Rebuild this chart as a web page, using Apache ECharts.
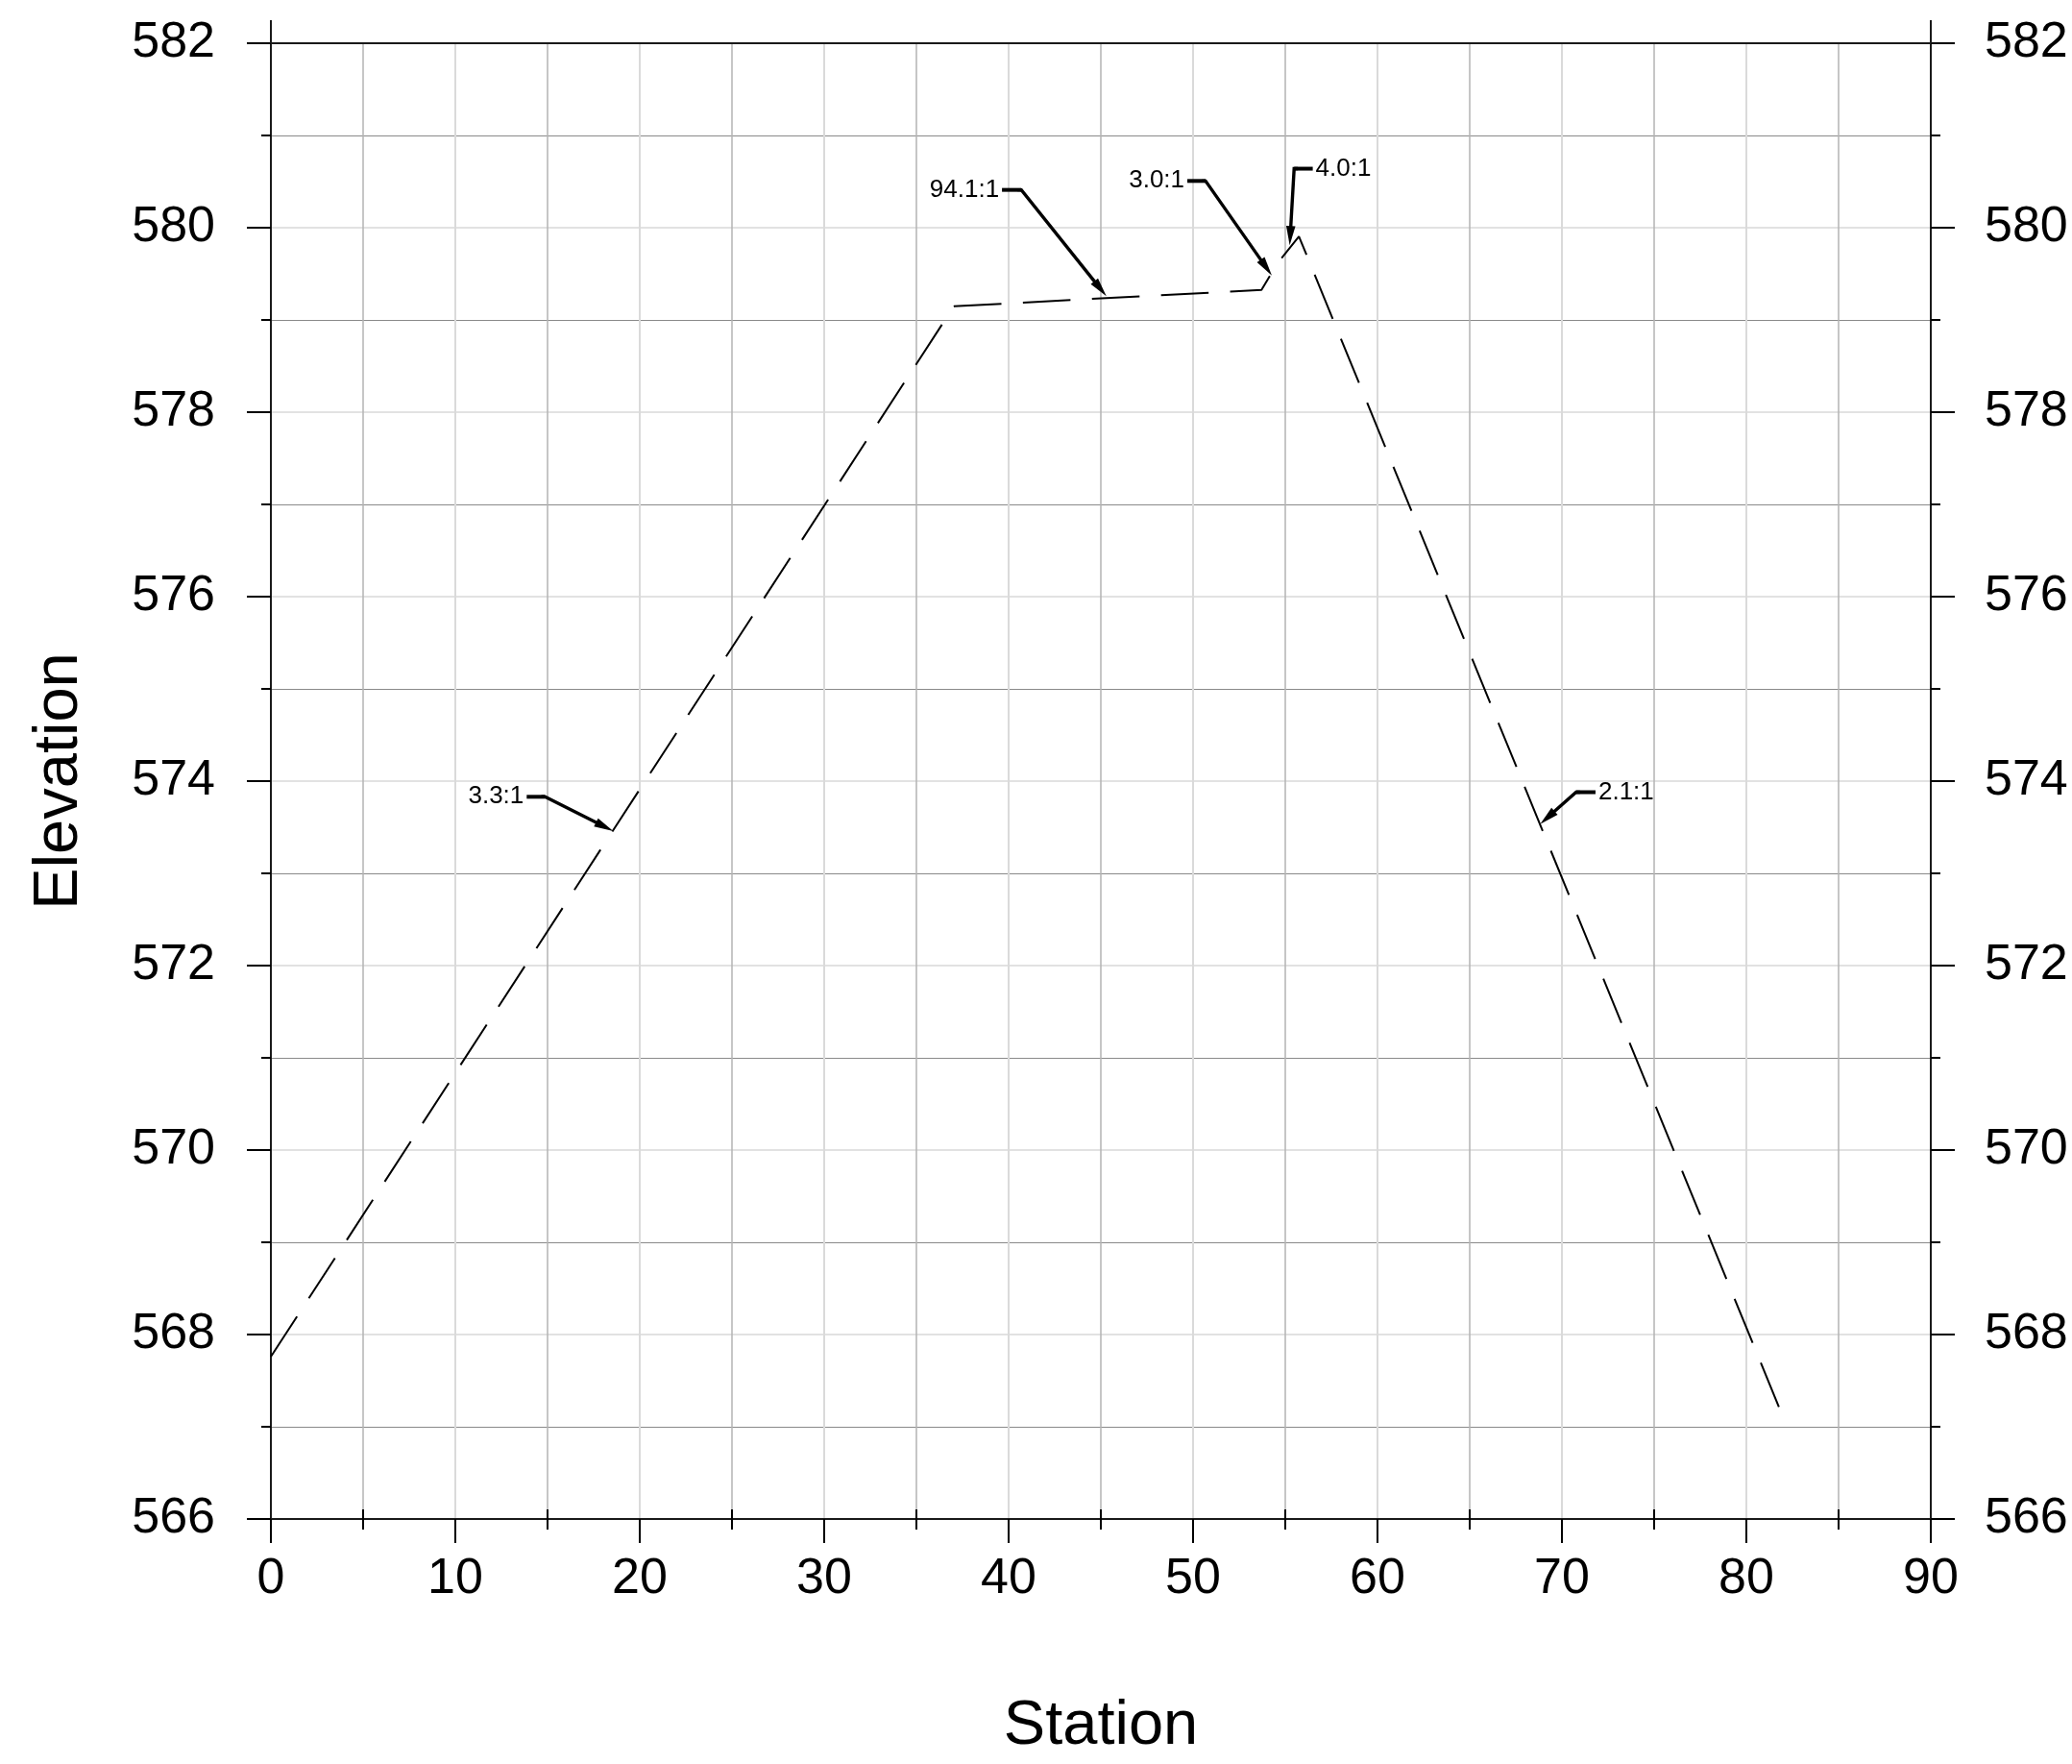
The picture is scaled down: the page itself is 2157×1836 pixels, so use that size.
<!DOCTYPE html>
<html>
<head>
<meta charset="utf-8">
<script src="https://cdn.jsdelivr.net/npm/echarts@6/dist/echarts.min.js"></script>
<style>
html,body{margin:0;padding:0;background:#fff;}
#chart{width:2157px;height:1836px;}
</style>
</head>
<body>
<div id="chart"></div>
<script>
// Profile data
const stations = [0, 37.03, 53.71, 54.58, 55.74, 81.98];
const elevations = [567.76, 579.148, 579.326, 579.616, 579.906, 567.11];
// index of the vertex where the fore-slope ends (dash pattern restarts there in the reference)
const breakIndex = 1;

// Axis ticks
const xTicks = [0, 10, 20, 30, 40, 50, 60, 70, 80, 90];
const yTicks = [566, 568, 570, 572, 574, 576, 578, 580, 582];

// Slope annotations (text, leader start, elbow, arrow tip, text side)
const annLabels = ['94.1:1', '3.0:1', '4.0:1', '3.3:1', '2.1:1'];
const annStart = [[39.64, 580.41], [49.69, 580.507], [56.49, 580.64], [13.87, 573.83], [71.82, 573.88]];
const annElbow = [[40.69, 580.41], [50.68, 580.507], [55.48, 580.64], [14.86, 573.83], [70.77, 573.88]];
const annTip = [[45.30, 579.257], [54.27, 579.482], [55.24, 579.81], [18.56, 573.458], [68.82, 573.535]];
const annSide = ['left', 'left', 'right', 'left', 'right'];

const FONT = '"Liberation Sans", Arial, sans-serif';
const chart = echarts.init(document.getElementById('chart'), null, {renderer: 'canvas'});

const profile = stations.map((s, i) => [s, elevations[i]]);
const partA = profile.slice(0, breakIndex + 1);
const partB = profile.slice(breakIndex);

const option = {
  backgroundColor: '#ffffff',
  animation: false,
  grid: {left: 282, right: 147, top: 45, bottom: 255, containLabel: false},
  xAxis: [
    {
      type: 'value', position: 'bottom',
      min: xTicks[0], max: xTicks[xTicks.length - 1], interval: 10,
      name: 'Station', nameLocation: 'middle', nameGap: 184,
      nameTextStyle: {fontSize: 65, color: '#000', fontFamily: FONT},
      axisLine: {show: true, onZero: false, lineStyle: {color: '#1a1a1a', width: 2}},
      axisTick: {show: true, inside: false, length: 25, lineStyle: {color: '#000', width: 2}},
      minorTick: {show: true, splitNumber: 2, length: 11, lineStyle: {color: '#000', width: 2}},
      axisLabel: {show: true, margin: 37, fontSize: 52, color: '#000', fontFamily: FONT},
      splitLine: {show: true, lineStyle: {color: '#dadada', width: 2}},
      minorSplitLine: {show: true, lineStyle: {color: '#b4b4b4', width: 1.5}}
    },
    {
      type: 'value', position: 'top',
      min: xTicks[0], max: xTicks[xTicks.length - 1], interval: 90,
      axisLine: {show: true, onZero: false, lineStyle: {color: '#1a1a1a', width: 2}},
      axisTick: {show: true, inside: false, length: 24, lineStyle: {color: '#1a1a1a', width: 2}},
      axisLabel: {show: false},
      splitLine: {show: false}
    },
    {
      type: 'value', position: 'bottom',
      min: xTicks[0], max: xTicks[xTicks.length - 1], interval: 10,
      axisLine: {show: false},
      axisTick: {show: false, inside: true},
      minorTick: {show: true, splitNumber: 2, length: 10, lineStyle: {color: '#000', width: 2}},
      axisLabel: {show: false},
      splitLine: {show: false}
    }
  ],
  yAxis: [
    {
      type: 'value', position: 'left',
      min: yTicks[0], max: yTicks[yTicks.length - 1], interval: 2,
      name: 'Elevation', nameLocation: 'middle', nameGap: 187,
      nameTextStyle: {fontSize: 65, color: '#000', fontFamily: FONT},
      axisLine: {show: true, onZero: false, lineStyle: {color: '#1a1a1a', width: 2}},
      axisTick: {show: true, inside: false, length: 25, lineStyle: {color: '#000', width: 2}},
      minorTick: {show: true, splitNumber: 2, length: 10, lineStyle: {color: '#000', width: 2}},
      axisLabel: {show: true, margin: 58, fontSize: 52, color: '#000', fontFamily: FONT},
      splitLine: {show: true, lineStyle: {color: '#e2e2e2', width: 2}},
      minorSplitLine: {show: true, lineStyle: {color: '#8a8a8a', width: 1.2}}
    },
    {
      type: 'value', position: 'right',
      min: yTicks[0], max: yTicks[yTicks.length - 1], interval: 2,
      axisLine: {show: true, onZero: false, lineStyle: {color: '#1a1a1a', width: 2}},
      axisTick: {show: true, inside: false, length: 25, lineStyle: {color: '#000', width: 2}},
      minorTick: {show: true, splitNumber: 2, length: 10, lineStyle: {color: '#000', width: 2}},
      axisLabel: {show: true, margin: 56, fontSize: 52, color: '#000', fontFamily: FONT},
      splitLine: {show: false}
    }
  ],
  series: [
    {
      type: 'line',
      xAxisIndex: 0, yAxisIndex: 0,
      data: partA,
      showSymbol: false, symbol: 'none',
      lineStyle: {color: '#000', width: 2, type: [49.9, 22.54], dashOffset: 0, cap: 'butt'},
      z: 5
    },
    {
      type: 'line',
      xAxisIndex: 0, yAxisIndex: 0,
      data: partB,
      showSymbol: false, symbol: 'none',
      lineStyle: {color: '#000', width: 2, type: [49.6, 22.4], dashOffset: 0, cap: 'butt'},
      z: 5
    },
    {
      type: 'custom',
      xAxisIndex: 0, yAxisIndex: 0,
      clip: false,
      data: annTip.map(t => [t[0], t[1]]),
      renderItem: function (params, api) {
        const i = params.dataIndex;
        const s = api.coord(annStart[i]);
        const e = api.coord(annElbow[i]);
        const t = api.coord(annTip[i]);
        const dx = t[0] - e[0], dy = t[1] - e[1];
        const len = Math.sqrt(dx * dx + dy * dy);
        const ux = dx / len, uy = dy / len;
        const L = 20, W = 4.8;
        const base = [t[0] - ux * L, t[1] - uy * L];
        const left = [base[0] - uy * W, base[1] + ux * W];
        const right = [base[0] + uy * W, base[1] - ux * W];
        const isLeft = annSide[i] === 'left';
        return {
          type: 'group',
          children: [
            {type: 'polyline', shape: {points: [s, e]},
             style: {stroke: '#000', lineWidth: 4, fill: null}},
            {type: 'polyline', shape: {points: [[s[0] + (e[0] - s[0]) * 0.8, s[1]], e, [t[0] - ux * (L - 4), t[1] - uy * (L - 4)]]},
             style: {stroke: '#000', lineWidth: 3.4, fill: null, lineJoin: 'miter'}},
            {type: 'polygon', shape: {points: [t, left, right]}, style: {fill: '#000', stroke: null}},
            {type: 'text', x: s[0] + (isLeft ? -3 : 3), y: s[1],
             style: {text: annLabels[i], fontSize: 26, fontFamily: FONT, fill: '#000',
                     align: isLeft ? 'right' : 'left', verticalAlign: 'middle'}}
          ]
        };
      },
      z: 6
    }
  ]
};
chart.setOption(option);
</script>
</body>
</html>
